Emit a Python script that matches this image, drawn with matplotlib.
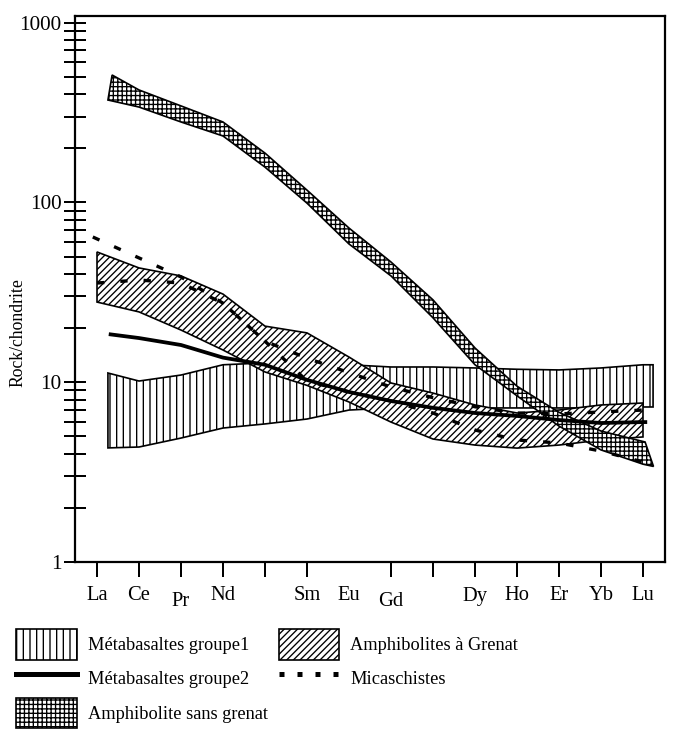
import numpy as np
import matplotlib.pyplot as plt
import matplotlib.patches as mpatches
from matplotlib.lines import Line2D
from matplotlib.ticker import LogLocator, NullFormatter

# ---------------------
# Data (rock / chondrite), x = position of the element on the REE axis
# ---------------------
elements = ['La', 'Ce', 'Pr', 'Nd', '', 'Sm', 'Eu', 'Gd', '', 'Dy', 'Ho', 'Er', 'Yb', 'Lu']
tick_pos = [0, 1, 2, 3, 4, 5, 7, 8, 9, 10, 11, 12, 13]

# Metabasaltes groupe 1 (envelope)
g1_x = [0.26, 1, 2, 3, 4, 5, 6, 7, 8, 9, 10, 11, 12, 13, 13.24]
g1_top = [11.25, 10.15, 10.96, 12.5, 12.8, 12.6, 12.5, 12.15, 12.15, 12.0, 11.8, 11.7, 12.0, 12.5, 12.5]
g1_bot = [4.31, 4.36, 4.89, 5.56, 5.86, 6.24, 7.0, 7.19, 7.19, 7.19, 7.19, 7.19, 7.19, 7.28, 7.28]

# Metabasaltes groupe 2 (line)
g2_x = [0.28, 1, 2, 3, 4, 5, 6, 7, 8, 9, 10, 11, 12, 13, 13.1]
g2 = [18.5, 17.6, 16.1, 13.7, 12.5, 10.3, 8.82, 7.86, 7.2, 6.74, 6.49, 6.16, 5.93, 6.0, 6.0]

# Amphibolite sans grenat (envelope)
sg_x_top = [0.36, 1, 2, 3, 4, 5, 6, 7, 8, 9, 10, 11, 12, 13.05, 13.25]
sg_top = [511, 422, 344, 280, 188, 117, 72, 46.6, 28.7, 15.5, 9.5, 6.8, 5.35, 4.65, 3.4]
sg_x_bot = [0.26, 1, 2, 3, 4, 5, 6, 7, 8, 9, 10, 11, 12, 13, 13.25]
sg_bot = [371, 339, 280, 234, 157, 99, 58.7, 39, 22.8, 12.5, 8.4, 5.7, 4.2, 3.5, 3.4]

# Amphibolites a grenat (envelope)
ag_x = [0, 1, 2, 3, 4, 5, 6, 7, 8, 9, 10, 11, 12, 13]
ag_top = [53, 43.2, 39, 30.9, 20.5, 18.8, 13.8, 9.9, 8.7, 7.47, 6.74, 7.0, 7.47, 7.66]
ag_bot = [27.9, 24.6, 19.5, 15.1, 11.4, 9.6, 7.76, 6.0, 4.83, 4.47, 4.3, 4.47, 4.77, 4.96]

# Micaschistes (two samples)
ma_x = [-0.1, 1, 2, 3, 4, 5, 6, 7, 8, 9, 10, 11, 12, 13]
ma = [64.2, 49.1, 38.5, 27.5, 16.9, 13.6, 11.3, 9.4, 8.2, 7.3, 6.74, 6.66, 6.83, 7.0]
mb_x = [0, 1, 2, 3, 4, 5, 6, 7, 8, 9, 10, 11, 12, 13]
mb = [35.6, 37.0, 35.6, 27.5, 16.9, 10.15, 8.82, 7.86, 6.74, 5.42, 4.77, 4.59, 4.14, 3.6]

# ---------------------
# Style
# ---------------------
plt.rcParams['font.family'] = ['Liberation Serif', 'DejaVu Serif']
plt.rcParams['hatch.linewidth'] = 1.2

DPI = 80
fig = plt.figure(figsize=(699 / DPI, 729 / DPI), dpi=DPI)
ax = fig.add_axes([75 / 699, 167 / 729, 590 / 699, 546 / 729])
ax.set_yscale('log')


def band(ax, xt, top, xb, bot, hatch, z):
    xs = np.r_[xt, xb[::-1]]
    ys = np.r_[top, bot[::-1]]
    ax.fill(xs, ys, facecolor='white', edgecolor='black', hatch=hatch,
            lw=1.5, zorder=z)


HATCH_G1, HATCH_AG, HATCH_SG = '||', '////', '+++'

band(ax, np.array(g1_x), g1_top, np.array(g1_x), np.array(g1_bot), HATCH_G1, 1)
band(ax, np.array(ag_x), ag_top, np.array(ag_x), np.array(ag_bot), HATCH_AG, 2)
band(ax, np.array(sg_x_top), sg_top, np.array(sg_x_bot), np.array(sg_bot), HATCH_SG, 3)

ax.plot(g2_x, g2, color='black', lw=3.4, zorder=4, solid_capstyle='butt')
dash = (0, (2.2, 4.8))
ax.plot(ma_x, ma, color='black', lw=3.0, ls=dash, zorder=5)
ax.plot(mb_x, mb, color='black', lw=3.0, ls=dash, zorder=5)

# ---------------------
# Axes
# ---------------------
ax.set_xlim(-0.524, 13.524)
ax.set_ylim(1, 1088)

ax.set_yticks([1, 10, 100, 1000])
ax.set_yticklabels(['1', '10', '100', '1000'])
ax.yaxis.set_minor_locator(LogLocator(base=10, subs=np.arange(2, 10)))
ax.yaxis.set_minor_formatter(NullFormatter())
ax.tick_params(axis='y', which='both', direction='inout', length=20,
               width=1.8, labelsize=19, pad=2)

ax.set_xticks(tick_pos)
ax.set_xticklabels([])
ax.tick_params(axis='x', direction='out', length=13.5, width=1.8)

drop = {'Pr': 6, 'Gd': 5}
for i, lab in enumerate(elements):
    if lab:
        ax.annotate(lab, xy=(i, 0), xycoords=('data', 'axes fraction'),
                    xytext=(0, -34 - drop.get(lab, 0)), textcoords='offset pixels',
                    ha='center', va='center', fontsize=18.5)

for s in ax.spines.values():
    s.set_linewidth(2)

ax.set_ylabel('Rock/chondrite', fontsize=16)
ax.yaxis.set_label_coords(-0.082, 0.42)

# ---------------------
# Legend
# ---------------------
handles = [
    mpatches.Patch(facecolor='white', edgecolor='black', hatch=HATCH_G1, lw=1.5),
    Line2D([], [], color='black', lw=4.5),
    mpatches.Patch(facecolor='white', edgecolor='black', hatch=HATCH_SG, lw=1.5),
    mpatches.Patch(facecolor='white', edgecolor='black', hatch=HATCH_AG, lw=1.5),
    Line2D([], [], color='black', lw=4.5, ls=(0, (1, 2.6))),
]
labels = ['Métabasaltes groupe1', 'Métabasaltes groupe2', 'Amphibolite sans grenat',
          'Amphibolites à Grenat', 'Micaschistes']
fig.legend(handles, labels, ncol=2, loc='upper left',
           bbox_to_anchor=(16 / 699, 1 - 629 / 729), frameon=False, fontsize=16.5,
           handlelength=3.3, handleheight=2.2, handletextpad=0.6,
           columnspacing=0.6, labelspacing=0.2, borderpad=0, borderaxespad=0)

fig.savefig('out.png', dpi=DPI)
